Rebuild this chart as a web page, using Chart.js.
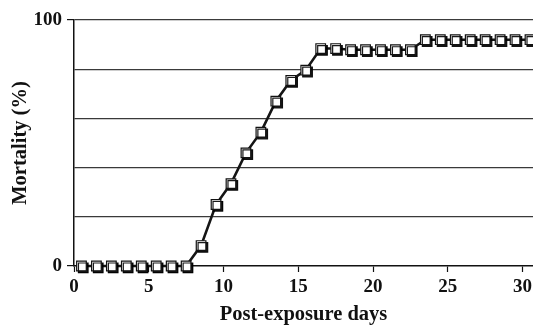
<!DOCTYPE html>
<html>
<head>
<meta charset="utf-8">
<script src="https://cdn.jsdelivr.net/npm/chart.js@4/dist/chart.umd.min.js"></script>
<style>
html,body{margin:0;padding:0;background:#fff;}
#wrap{width:533px;height:329px;}
</style>
</head>
<body>
<div id="wrap"><canvas id="c" width="533" height="329"></canvas></div>
<script>
const days = [0.5,1.5,2.5,3.5,4.5,5.5,6.5,7.5,8.5,9.5,10.5,11.5,12.5,13.5,14.5,15.5,16.5,17.5,18.5,19.5,20.5,21.5,22.5,23.5,24.5,25.5,26.5,27.5,28.5,29.5,30.5];
const mortality = [0,0,0,0,0,0,0,0,8.3,25,33.5,46,54.4,67,75.4,79.6,88.4,88.4,87.9,87.9,87.9,87.9,87.9,92,92,92,92,92,92,92,92];
const xTicks = [0,5,10,15,20,25,30];
const yLabelled = [0,100];
const xTitle = 'Post-exposure days';
const yTitle = 'Mortality (%)';

const tickFont = {family:'Liberation Serif', weight:'bold', size:19};
const titleFont = {family:'Liberation Serif', weight:'bold', size:20.5};

const pts = days.map((d,i)=>({x:d, y:mortality[i]}));

const shadowPlugin = {
  id:'shadow',
  beforeDatasetDraw(chart, args){
    const ctx = chart.ctx;
    ctx.save();
    if (args.index === 1) {
      ctx.shadowColor = 'rgba(0,0,0,0.9)';
      ctx.shadowOffsetX = 1.8;
      ctx.shadowOffsetY = 1.8;
      ctx.shadowBlur = 0.6;
    }
  },
  afterDatasetDraw(chart){
    chart.ctx.restore();
  }
};

new Chart(document.getElementById('c'), {
  type:'line',
  data:{
    datasets:[{
      data: pts,
      borderColor:'#151515',
      borderWidth:2.6,
      pointRadius:0,
      tension:0,
      clip:false,
      order:2
    },{
      data: pts,
      showLine:false,
      pointStyle:'rect',
      pointRadius:6.8,
      pointBorderWidth:1.2,
      pointBorderColor:'#111',
      pointBackgroundColor:'#fff',
      clip:false,
      order:1
    }]
  },
  options:{
    responsive:false,
    animation:false,
    devicePixelRatio:1,
    layout:{autoPadding:false, padding:{top:20,left:0,right:0,bottom:0}},
    plugins:{legend:{display:false}, tooltip:{enabled:false}},
    scales:{
      x:{
        type:'linear',
        min:0, max:30.7,
        afterBuildTicks(s){ s.ticks = xTicks.map(v=>({value:v})); },
        ticks:{font:tickFont, color:'#111', padding:4, maxRotation:0, includeBounds:false},
        grid:{drawOnChartArea:false, tickLength:6, tickColor:'#111', tickWidth:1.2},
        border:{color:'#111', width:1.5},
        title:{display:true, text:xTitle, font:titleFont, color:'#111', padding:{top:0,bottom:2}},
        afterFit(s){ s.height = 63; s.paddingRight = 0; s.paddingLeft = 0; }
      },
      y:{
        type:'linear',
        min:0, max:100,
        ticks:{stepSize:20, font:tickFont, color:'#111', padding:5,
          callback:(v)=> yLabelled.includes(v) ? String(v) : ''},
        grid:{
          color:(c)=> c.tick && c.tick.value===0 ? 'rgba(0,0,0,0)' : '#3a3a3a',
          lineWidth:1.2,
          tickLength:7,
          tickColor:(c)=> c.tick && yLabelled.includes(c.tick.value) ? '#111' : 'rgba(0,0,0,0)'
        },
        border:{color:'#111', width:1.5},
        title:{display:true, text:yTitle, font:titleFont, color:'#111', padding:{top:8,bottom:0}},
        afterFit(s){ s.width = 74; }
      }
    }
  },
  plugins:[shadowPlugin]
});
</script>
</body>
</html>
